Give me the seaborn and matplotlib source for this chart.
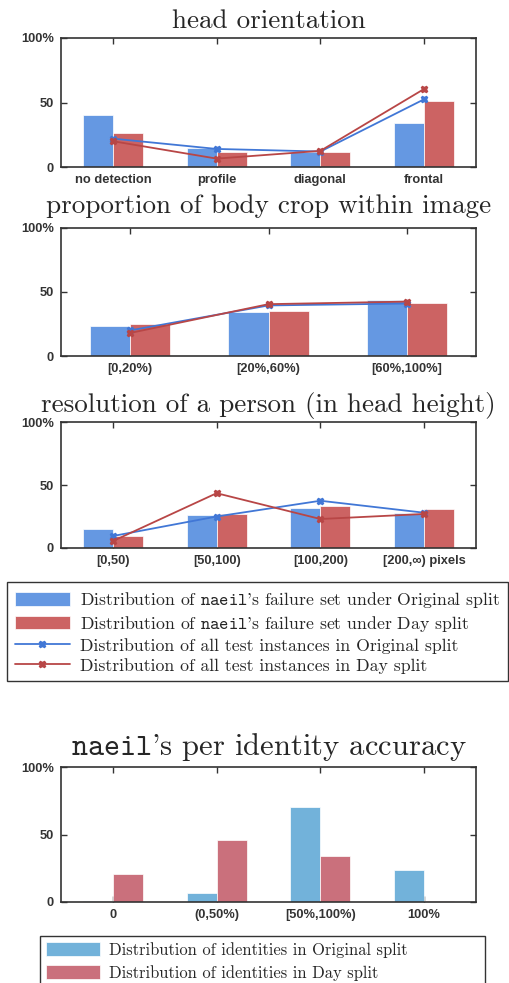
import matplotlib
matplotlib.use("Agg")
import pandas as pd
import matplotlib.pyplot as plt
import seaborn as sns

sns.set_style("ticks")
plt.rcParams["font.family"] = ["Liberation Sans", "DejaVu Sans"]
plt.rcParams["mathtext.fontset"] = "cm"
plt.rcParams["axes.unicode_minus"] = False

# -----------------------------
# data (percent)
# -----------------------------
head_cats = ["no detection", "profile", "diagonal", "frontal"]
head_fail_orig = [40, 15, 12, 34]
head_fail_day = [26.5, 12, 11.5, 51]
head_all_orig = [22, 14, 12, 52.5]
head_all_day = [20, 6.5, 12.5, 60.5]

crop_cats = ["[0,20%)", "[20%,60%)", "[60%,100%]"]
crop_fail_orig = [23.5, 34.5, 44]
crop_fail_day = [25, 35.5, 41.5]
crop_all_orig = [20, 39.5, 41]
crop_all_day = [18, 40.5, 42.5]

res_cats = ["[0,50)", "[50,100)", "[100,200)", "[200,\u221e) pixels"]
res_fail_orig = [15, 26.5, 32, 27.5]
res_fail_day = [9.5, 27, 33.5, 31]
res_all_orig = [9.5, 25, 37.5, 28]
res_all_day = [5.5, 43.5, 23, 27]

acc_cats = ["0", "(0,50%)", "[50%,100%)", "100%"]
acc_orig = [0.5, 6.5, 70.5, 23.5]
acc_day = [20.5, 46, 34, 0.5]

lab_fail_orig = r"Distribution of $\mathtt{naeil}$'s failure set under Original split"
lab_fail_day = r"Distribution of $\mathtt{naeil}$'s failure set under Day split"
lab_all_orig = "Distribution of all test instances in Original split"
lab_all_day = "Distribution of all test instances in Day split"
lab_id_orig = "Distribution of identities in Original split"
lab_id_day = "Distribution of identities in Day split"

BLUE, RED = "#6598E2", "#CC6363"
LBLUE, LRED = "#4177D6", "#B84646"
BLUE2, RED2 = "#72B2DA", "#CA707C"
DARK = "#333333"

W, H = 509, 983
fig = plt.figure(figsize=(W / 100, H / 100), dpi=100)


def add_ax(top, bottom):
    return fig.add_axes([61 / W, 1 - bottom / H, 415 / W, (bottom - top) / H])


def long_df(cats, a, b, la, lb):
    return pd.DataFrame({"cat": cats * 2, "val": a + b,
                         "series": [la] * len(cats) + [lb] * len(cats)})


def style(ax, n, title, tsize, pad):
    ax.set_xlim(-0.5, n - 0.5)
    ax.set_ylim(0, 100)
    ax.set_yticks([0, 50, 100])
    ax.set_yticklabels(["0", "50", "100%"])
    ax.set_xlabel("")
    ax.set_ylabel("")
    ax.tick_params(direction="in", top=True, right=True, length=4, width=1,
                   color=DARK, labelsize=9.3, labelcolor="#333333", pad=5)
    for lab in ax.get_xticklabels() + ax.get_yticklabels():
        lab.set_fontweight("bold")
    for s in ax.spines.values():
        s.set_visible(True)
        s.set_color(DARK)
        s.set_linewidth(1.2)
    ax.set_title(title, fontfamily="cmr10", fontsize=tsize, pad=pad)


def panel(ax, cats, fo, fd, ao, ad, title, pad):
    bars = long_df(cats, fo, fd, lab_fail_orig, lab_fail_day)
    sns.barplot(data=bars, x="cat", y="val", hue="series", order=cats,
                hue_order=[lab_fail_orig, lab_fail_day], palette=[BLUE, RED],
                saturation=1, width=0.58, edgecolor="white", linewidth=0.5,
                errorbar=None, ax=ax)
    pts = long_df(cats, ao, ad, lab_all_orig, lab_all_day)
    sns.pointplot(data=pts, x="cat", y="val", hue="series", order=cats,
                  hue_order=[lab_all_orig, lab_all_day], palette=[LBLUE, LRED],
                  markers="X", markersize=5, linewidth=1.3, dodge=False,
                  errorbar=None, ax=ax)
    style(ax, len(cats), title, 19.5, pad)


ax1 = add_ax(38, 167)
panel(ax1, head_cats, head_fail_orig, head_fail_day, head_all_orig, head_all_day,
      "head orientation", 7)
ax2 = add_ax(228, 356)
panel(ax2, crop_cats, crop_fail_orig, crop_fail_day, crop_all_orig, crop_all_day,
      "proportion of body crop within image", 10.5)
ax3 = add_ax(422, 548)
panel(ax3, res_cats, res_fail_orig, res_fail_day, res_all_orig, res_all_day,
      "resolution of a person (in head height)", 7)

handles, labels = ax3.get_legend_handles_labels()
for ax in (ax1, ax2, ax3):
    if ax.get_legend() is not None:
        ax.get_legend().remove()

leg1 = fig.legend(handles, labels, loc="upper left",
                  bbox_to_anchor=(7 / W, 1 - 582 / H - 0.05, 501 / W, 0.05),
                  mode="expand", borderaxespad=0,
                  prop=dict(family="cmr10", size=12.75), handlelength=3.1,
                  handleheight=0.8, handletextpad=0.55, labelspacing=0.22,
                  fancybox=False, edgecolor=DARK, framealpha=1, borderpad=0.45)
leg1.get_frame().set_linewidth(1)

# identity accuracy panel
ax4 = add_ax(767, 902)
acc = long_df(acc_cats, acc_orig, acc_day, lab_id_orig, lab_id_day)
sns.barplot(data=acc, x="cat", y="val", hue="series", order=acc_cats,
            hue_order=[lab_id_orig, lab_id_day], palette=[BLUE2, RED2],
            saturation=1, width=0.58, edgecolor="white", linewidth=0.5,
            errorbar=None, ax=ax4)
style(ax4, len(acc_cats), r"$\mathtt{naeil}$'s per identity accuracy", 22, 8.5)
h4, l4 = ax4.get_legend_handles_labels()
if ax4.get_legend() is not None:
    ax4.get_legend().remove()
leg2 = fig.legend(h4, l4, loc="upper left",
                  bbox_to_anchor=(40 / W, 1 - 936 / H - 0.05, 445 / W, 0.05),
                  mode="expand", borderaxespad=0,
                  prop=dict(family="cmr10", size=11.9), handlelength=3.3,
                  handleheight=0.9, handletextpad=0.5, labelspacing=0.45,
                  fancybox=False, edgecolor=DARK, framealpha=1, borderpad=0.35)
leg2.get_frame().set_linewidth(1)

fig.savefig("out.png", dpi=100)
